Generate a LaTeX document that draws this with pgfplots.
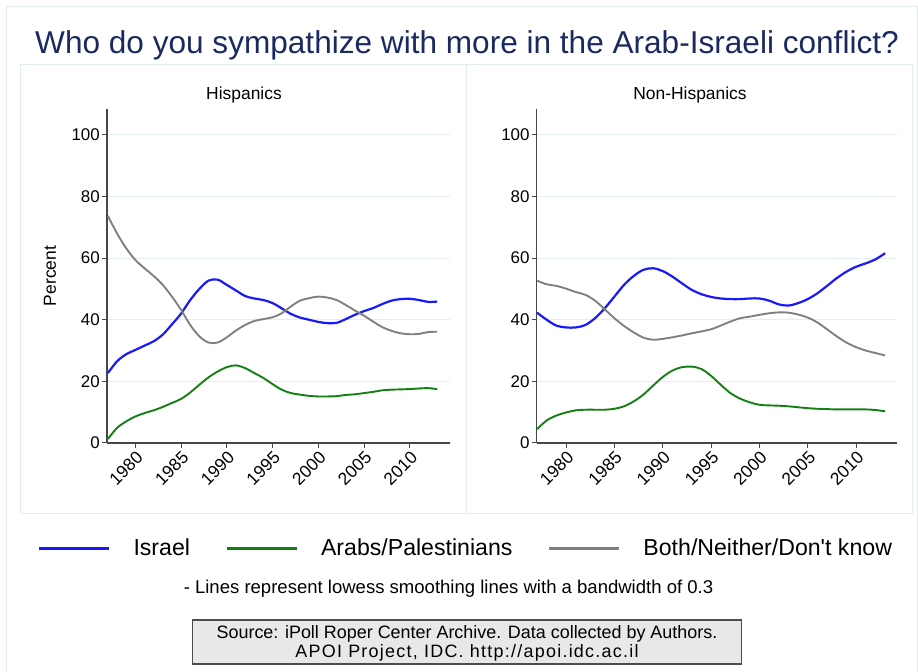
\documentclass[border=0pt]{standalone}
\usepackage{pgfplots}
\pgfplotsset{compat=1.18}
\usepackage{pgfplotstable}
\usepackage{fontspec}
\setmainfont{Liberation Sans}
\definecolor{titleblue}{RGB}{26,42,96}
\definecolor{framec}{RGB}{226,237,237}
\definecolor{gridc}{RGB}{228,239,239}
\definecolor{lblue}{RGB}{25,25,250}
\definecolor{lgreen}{RGB}{20,128,20}
\definecolor{lgray}{RGB}{128,128,128}
\definecolor{boxfill}{RGB}{232,232,232}

\pgfplotstableread{
year isr arab both
1977 22.7 1.3 73.7
1978 26.5 4.9 68.0
1979 28.8 7.0 63.2
1980 30.2 8.6 59.4
1981 31.6 9.7 56.7
1982 33.0 10.6 54.2
1983 35.2 11.7 51.3
1984 38.5 13.0 47.5
1985 42.0 14.3 43.2
1986 46.4 16.4 38.3
1987 50.0 18.9 34.6
1988 52.7 21.3 32.6
1989 53.0 23.2 32.6
1990 51.3 24.6 34.3
1991 49.5 25.2 36.5
1992 47.7 24.3 38.3
1993 46.9 22.7 39.6
1994 46.4 21.1 40.2
1995 45.4 19.1 40.8
1996 43.7 17.3 42.1
1997 41.9 16.2 44.3
1998 40.7 15.7 46.2
1999 40.0 15.3 47.0
2000 39.3 15.1 47.5
2001 38.9 15.1 47.2
2002 39.0 15.2 46.4
2003 40.2 15.6 44.8
2004 41.6 15.8 43.0
2005 42.8 16.2 41.3
2006 43.8 16.6 39.4
2007 45.1 17.1 37.6
2008 46.2 17.3 36.4
2009 46.7 17.4 35.6
2010 46.8 17.5 35.3
2011 46.4 17.7 35.4
2012 45.8 17.8 36.0
2013 45.9 17.5 36.1
}\hisp

\pgfplotstableread{
year isr arab both
1977 42.3 4.5 52.7
1978 40.0 7.3 51.5
1979 38.1 8.9 51.0
1980 37.5 9.9 50.1
1981 37.5 10.6 49.0
1982 38.3 10.8 48.1
1983 40.5 10.8 46.2
1984 43.7 10.8 43.4
1985 47.5 11.1 40.5
1986 51.3 11.9 38.0
1987 54.2 13.5 35.9
1988 56.2 15.7 34.2
1989 56.7 18.6 33.5
1990 55.8 21.4 33.8
1991 54.0 23.5 34.3
1992 51.8 24.6 34.9
1993 49.7 24.8 35.6
1994 48.3 24.0 36.2
1995 47.4 21.8 36.9
1996 46.9 18.9 38.1
1997 46.7 16.2 39.4
1998 46.7 14.4 40.5
1999 46.9 13.2 41.0
2000 46.9 12.4 41.6
2001 46.2 12.2 42.1
2002 45.0 12.1 42.4
2003 44.6 11.9 42.3
2004 45.4 11.6 41.7
2005 46.7 11.3 40.7
2006 48.6 11.1 39.1
2007 51.0 11.0 36.9
2008 53.5 10.9 34.6
2009 55.6 10.9 32.6
2010 57.2 10.9 31.1
2011 58.3 10.9 30.0
2012 59.6 10.7 29.2
2013 61.6 10.3 28.4
}\nonhisp

\pgfplotsset{
  panel/.style={
    scale only axis, height=334bp,
    ymin=0, ymax=108.4,
    axis x line*=bottom, axis y line*=left,
    axis line style={draw=black!72, line width=1.2bp, -},
    xtick={1980,1985,...,2010}, ytick={0,20,...,100},
    tick align=outside, major tick length=5bp,
    tick style={draw=black!72, line width=1bp},
    ymajorgrids, grid style={draw=gridc, line width=1bp},
    xticklabel style={rotate=45, anchor=north east, inner sep=1.5bp,
      font=\fontsize{17.5}{19}\selectfont},
    yticklabel style={inner sep=2bp, font=\fontsize{17}{19}\selectfont},
    clip=false,
    every axis plot/.append style={smooth, tension=0.55, no marks},
    /pgf/number format/assume math mode=true,
    /pgf/number format/1000 sep={},
  },
}

\begin{document}
\begin{tikzpicture}[x=1bp,y=1bp]
\useasboundingbox (0,0) rectangle (918,672);
% frames
\draw[framec, line width=1bp] (6,-5) rectangle (917.3,665);
\draw[framec, line width=1bp] (20,158) rectangle (466.5,607);
\draw[framec, line width=1bp] (466.5,158) rectangle (912.7,607);
% title
\node[anchor=base, text=titleblue, font=\fontsize{31.7}{34}\selectfont] at (467,618) {Who do you sympathize with more in the Arab-Israeli conflict?};
% subtitles
\node[font=\fontsize{17.5}{19}\selectfont] at (244,577) {Hispanics};
\node[font=\fontsize{17.5}{19}\selectfont] at (690,577) {Non-Hispanics};
\node[rotate=90, font=\fontsize{17.5}{19}\selectfont] at (50,396) {Percent};

\begin{axis}[panel, at={(107bp,229bp)}, anchor=origin, width=343bp,
  xmin=1976.9, xmax=2014.4,
  legend style={at={(1.043,-0.3144)}, anchor=center, draw=none, fill=none,
    legend columns=3, font=\fontsize{23.2}{25}\selectfont,
    nodes={inner sep=0bp},
    /tikz/every odd column/.append style={column sep=23bp},
    /tikz/every even column/.append style={column sep=35bp}},
  legend image code/.code={\draw[#1, line width=3bp] (0bp,0bp) -- (70bp,0bp);},
]
\addplot[lblue, line width=2.2bp] table[x=year, y=isr] {\hisp};
\addplot[lgreen, line width=1.9bp] table[x=year, y=arab] {\hisp};
\addplot[lgray, line width=1.9bp] table[x=year, y=both] {\hisp};
\legend{Israel, Arabs/Palestinians, Both/Neither/Don\textquotesingle t know}
\end{axis}

\begin{axis}[panel, at={(536.7bp,229bp)}, anchor=origin, width=360bp,
  xmin=1976.97, xmax=2014.2]
\addplot[lblue, line width=2.2bp] table[x=year, y=isr] {\nonhisp};
\addplot[lgreen, line width=1.9bp] table[x=year, y=arab] {\nonhisp};
\addplot[lgray, line width=1.9bp] table[x=year, y=both] {\nonhisp};
\end{axis}

% note
\node[anchor=base, font=\fontsize{18.6}{20}\selectfont] at (448.5,78) {- Lines represent lowess smoothing lines with a bandwidth of 0.3};
% source box
\draw[draw=black!70, fill=boxfill, line width=1.2bp] (192.7,8) rectangle (741.7,52);
\node[anchor=base, font=\fontsize{18}{20}\selectfont] at (467,33) {Source: iPoll Roper Center Archive. Data collected by Authors.};
\node[anchor=base, font=\fontsize{18}{20}\selectfont\addfontfeature{LetterSpace=7}] at (467,14.5) {APOI Project, IDC. http://apoi.idc.ac.il};
\end{tikzpicture}
\end{document}
